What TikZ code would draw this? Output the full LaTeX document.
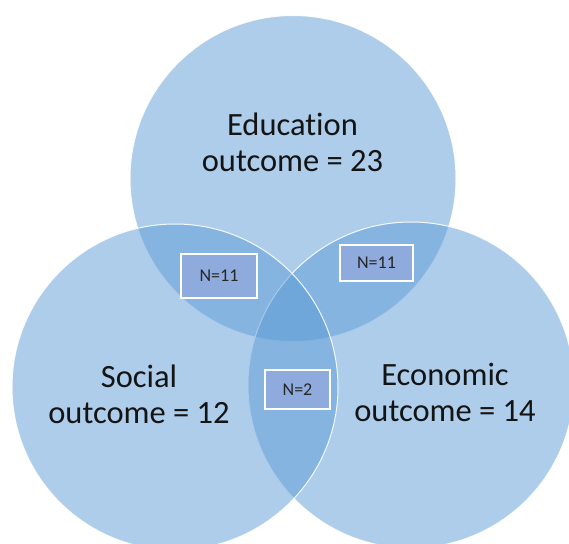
\documentclass[tikz,border=0pt]{standalone}
\usepackage{fontspec}
\setmainfont{Carlito}[Ligatures=NoCommon]
\usepackage{tikz}
\definecolor{vennblue}{HTML}{5B9BD5}
\definecolor{boxblue}{HTML}{8FAADC}
\definecolor{labeltext}{HTML}{141414}

\begin{document}
\begin{tikzpicture}[x=1pt,y=-1pt]
        \tikzstyle{set}=[circle,minimum size=326pt,inner sep=0pt,fill=vennblue,fill opacity=0.5,draw=white,draw opacity=0.9,line width=1pt]
        \tikzstyle{outcome}=[align=center,anchor=base,font=\fontsize{32.5}{35.5}\selectfont,text=labeltext]
        \tikzstyle{count}=[draw=white,line width=1.2pt,fill=boxblue,inner sep=0pt,font=\fontsize{18}{20}\selectfont,text=black!85]
        \useasboundingbox (0,0) rectangle (569,543);
        \clip (0,0) rectangle (569,543);
        \node[set] (Edu) at (293,178.5) {};
        \node[set] (Eco) at (411,385) {};
        \node[set] (Soc) at (175,387) {};
        \node[outcome] (EduLbl) at (292.5,171) {Education\\outcome = 23};
        \node[outcome] (SocLbl) at (139,423) {Social\\outcome = 12};
        \node[outcome] (EcoLbl) at (445,421) {Economic\\outcome = 14};
        \node[count,minimum width=76pt,minimum height=44pt] (EduSoc) at (219,276) {N=11};
        \node[count,minimum width=73pt,minimum height=36pt] (EduEco) at (376.5,263) {N=11};
        \node[count,minimum width=65pt,minimum height=39pt] (SocEco) at (297.5,389.5) {N=2};
    \end{tikzpicture}
\end{document}
